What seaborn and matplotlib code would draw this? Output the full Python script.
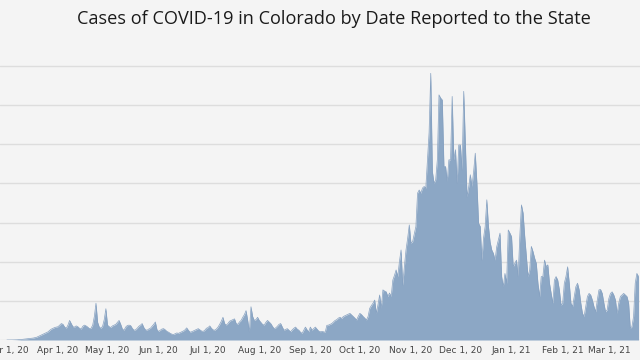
# --------------------------------------------------------------
# Importing Libraries
# --------------------------------------------------------------
import pandas as pd
import matplotlib

matplotlib.use("Agg")
import matplotlib.pyplot as plt
import matplotlib.dates as mdates
import seaborn as sns

# --------------------------------------------------------------
# Data: daily cases by date reported, one list per month
# --------------------------------------------------------------
mar20 = [0, 0, 0, 0, 2, 3, 5, 8, 10, 15, 20, 25, 30, 35, 40, 45, 50, 60, 70, 90,
         110, 130, 150, 170, 190, 210, 250, 280, 300, 320, 330]
apr20 = [340, 380, 420, 400, 330, 300, 380, 500, 420, 340, 330, 360, 340, 300, 280,
         350, 380, 360, 330, 290, 300, 380, 600, 940, 450, 330, 300, 350, 520, 800]
may20 = [380, 340, 320, 360, 380, 400, 450, 500, 400, 280, 250, 330, 370, 380, 370,
         300, 250, 260, 300, 350, 380, 420, 320, 260, 250, 280, 300, 350, 400, 460, 260]
jun20 = [220, 250, 280, 290, 260, 220, 200, 170, 150, 140, 160, 180, 170, 190, 210,
         230, 260, 310, 250, 200, 210, 230, 250, 270, 290, 260, 230, 220, 250, 300]
jul20 = [320, 360, 300, 260, 250, 280, 330, 400, 480, 580, 420, 380, 420, 480, 500,
         520, 540, 420, 400, 460, 500, 580, 650, 750, 500, 210, 850, 600, 500, 520, 580]
aug20 = [500, 450, 400, 380, 450, 500, 460, 420, 350, 290, 310, 350, 400, 420, 330,
         250, 270, 290, 250, 210, 260, 300, 330, 280, 250, 200, 170, 250, 330, 260, 210]
sep20 = [330, 250, 290, 330, 280, 230, 210, 220, 210, 200, 375, 380, 400, 420, 460,
         500, 520, 560, 580, 550, 600, 620, 640, 660, 680, 640, 600, 560, 510, 600]
oct20 = [680, 650, 600, 560, 510, 600, 810, 880, 940, 1020, 680, 900, 1150, 810, 1280,
         1250, 1230, 1110, 1200, 1110, 1530, 1650, 1790, 1620, 2000, 2300, 1400, 1870,
         2300, 2600, 2940]
nov20 = [2470, 2510, 2700, 2900, 3750, 3830, 3750, 3880, 3920, 3880, 4600, 5300, 6810,
         4300, 4000, 4090, 4600, 6260, 6180, 6130, 4430, 4430, 4050, 4600, 4600, 6220,
         4600, 4860, 4000, 4980]
dec20 = [4980, 4340, 6350, 5030, 3660, 3900, 4220, 3920, 4300, 4770, 4000, 2980, 2900,
         2040, 2600, 2900, 3580, 2900, 2500, 2300, 2210, 2040, 2380, 2550, 2730, 1620,
         1360, 1700, 1450, 2810, 2730]
jan21 = [2640, 1870, 1960, 2040, 1620, 2640, 3450, 3240, 2640, 2130, 1620, 1790, 2390,
         2260, 2090, 1960, 1450, 1110, 1620, 1620, 2040, 1870, 1920, 1450, 1190, 940,
         1530, 1620, 1530, 1280, 890]
feb21 = [940, 1450, 1620, 1870, 1450, 940, 850, 1110, 1360, 1450, 1280, 940, 680, 600,
         850, 1110, 1190, 1150, 1020, 850, 720, 1020, 1280, 1290, 1190, 940, 720, 770]
mar21 = [1060, 1190, 1230, 1150, 1020, 680, 940, 1110, 1150, 1190, 1150, 1110, 940,
         300, 340, 600, 1450, 1700, 1620]

months = [mar20, apr20, may20, jun20, jul20, aug20, sep20, oct20, nov20, dec20,
          jan21, feb21, mar21]
cases = [v for m in months for v in m]
df = pd.DataFrame(
    {"date": pd.date_range("2020-03-01", periods=len(cases), freq="D"), "cases": cases}
)

title = "Cases of COVID-19 in Colorado by Date Reported to the State"
bg = "#f4f4f4"
fill_color = "#8ca7c5"

# --------------------------------------------------------------
# Plot
# --------------------------------------------------------------
sns.set_style("whitegrid")
fig = plt.figure(figsize=(6.4, 3.6), dpi=100, facecolor=bg)
ax = fig.add_axes([0, 20 / 360, 1, 289 / 360])
ax.set_facecolor(bg)

sns.lineplot(data=df, x="date", y="cases", ax=ax, color="#86a1c1", linewidth=0.5)
ax.fill_between(df["date"], df["cases"], color=fill_color, linewidth=0)

ax.set_xlim(pd.Timestamp("2020-03-01") - pd.Timedelta(days=4.2),
            pd.Timestamp("2020-03-01") + pd.Timedelta(days=383.9))
ax.set_ylim(0, 7380)
ax.set_yticks(range(0, 7001, 1000))
ax.set_yticklabels([])
ax.yaxis.grid(True, color="#dddddd", linewidth=1)
ax.xaxis.grid(False)

ax.xaxis.set_major_locator(mdates.MonthLocator())
ax.xaxis.set_major_formatter(mdates.DateFormatter("%b %-d, %y"))
ax.tick_params(axis="x", labelsize=6.5, labelcolor="#444444", length=0, pad=4)
ax.tick_params(axis="y", length=0)
ax.set_xlabel("")
ax.set_ylabel("")
for s in ax.spines.values():
    s.set_visible(False)

fig.text(0.521, 0.948, title, ha="center", va="center", fontsize=13.1,
         color="#1a1a1a", family=["Open Sans", "DejaVu Sans"])

plt.savefig("out.png", dpi=100, facecolor=bg)
